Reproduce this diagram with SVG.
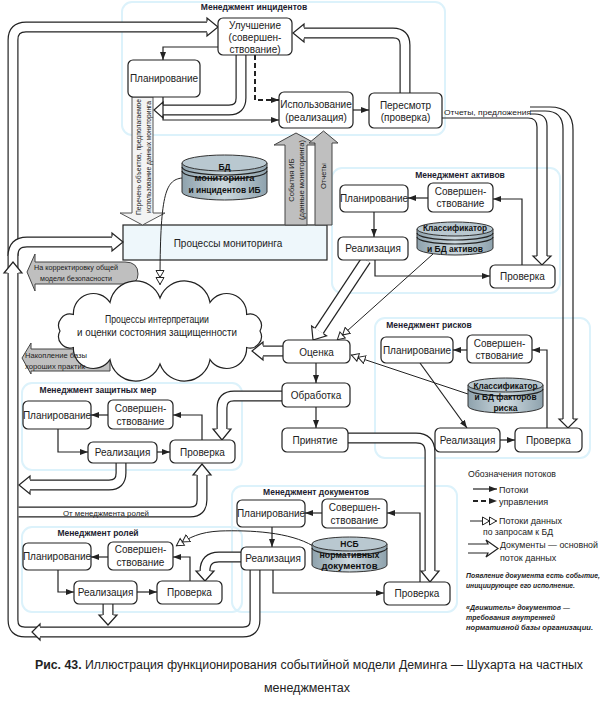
<svg xmlns="http://www.w3.org/2000/svg" xmlns:xlink="http://www.w3.org/1999/xlink" width="615" height="704" viewBox="0 0 615 704">
<style>
text{font-family:"Liberation Sans",Arial,sans-serif;fill:#222}
.t{font-size:10px;text-anchor:middle}
.ttl{font-size:8.5px;font-weight:bold;text-anchor:middle;fill:#1c1c30}
.db{font-size:8.5px;font-weight:bold;text-anchor:middle;fill:#111}
.sm{font-size:7.5px}
.lg{font-size:9px}
.note{font-size:7px;font-weight:bold;font-style:italic}
.cap{font-size:12.5px;text-anchor:middle}
.box{fill:#fff;stroke:#222;stroke-width:1.2}
.zone{fill:none;stroke:#dcf2fb;stroke-width:2}
.ln{fill:none;stroke:#222;stroke-width:1.2}
.a{fill:none;stroke:#222;stroke-width:1.2;marker-end:url(#ar)}
.da{fill:none;stroke:#222;stroke-width:2;stroke-dasharray:5 3;marker-end:url(#ar)}
.dd{fill:none;stroke:#222;stroke-width:1;marker-end:url(#dd)}
.cho{fill:none;stroke:#222;stroke-width:11}
.chi{fill:none;stroke:#fff;stroke-width:8.6}
.hd{fill:#fff;stroke:#222;stroke-width:1.2;stroke-linejoin:miter}
.cyl{fill:url(#cg);stroke:#333;stroke-width:1}
.cyt{fill:#b9c8d0;stroke:#333;stroke-width:1}
.gar{fill:#bfbfbf;stroke:#444;stroke-width:1}
.war{fill:#f3f3f3;stroke:#555;stroke-width:1}
</style>
<defs>
<marker id="ar" viewBox="0 0 8 6" refX="8" refY="3" markerWidth="8" markerHeight="6" markerUnits="userSpaceOnUse" orient="auto"><path d="M0,0 L8,3 L0,6 Z" fill="#222"/></marker>
<marker id="dd" viewBox="0 0 16 10" refX="15" refY="5" markerWidth="16" markerHeight="10" markerUnits="userSpaceOnUse" orient="auto"><path d="M0.5,1 L7.5,5 L0.5,9 Z M7.5,1 L14.5,5 L7.5,9 Z" fill="#fff" stroke="#222" stroke-width="1"/></marker>
<linearGradient id="cg" x1="0" y1="0" x2="1" y2="0"><stop offset="0" stop-color="#8ea2ad"/><stop offset="0.5" stop-color="#cdd9df"/><stop offset="1" stop-color="#8ea2ad"/></linearGradient>
<path id="chLoop" d="M255,570 V620 Q255,632 243,632 H25 Q13,632 13,620 V40 Q13,27 26,27 H207"/>
<path id="chMon" d="M13,256 Q13,242 27,242 H112"/>
<path id="chRev" d="M405,93 V45 Q405,33 393,33 H304"/>
<path id="chImp" d="M241,55 V98 Q241,110 229,110 H163"/>
<path id="chEval" d="M283,351 H263"/>
<path id="chProc" d="M282,396 H234 Q222,396 222,408 V429"/>
<path id="chPR" d="M121,463 V473 Q121,485 109,485 H30"/>
<path id="chRoles" d="M18.6,512 H190 Q202,512 202,500 V475"/>
<path id="chRR" d="M108,604 V615"/>
<path id="chDR" d="M241,557 H219 Q205,557 205,571"/>
<path id="chAcc" d="M348,438 H416 Q430,438 430,452 V571"/>
<path id="chAs" d="M366,260 L319,331"/>
</defs>

<g id="zones">
<rect class="zone" x="122" y="2" width="323" height="133" rx="10"/>
<rect class="zone" x="332" y="168" width="228" height="125" rx="10"/>
<rect class="zone" x="375" y="318" width="215" height="140" rx="10"/>
<rect class="zone" x="22" y="383" width="220" height="87" rx="10"/>
<rect class="zone" x="22" y="527" width="220" height="85" rx="10"/>
<rect class="zone" x="232" y="486" width="225" height="126" rx="10"/>
</g>

<g id="grey-arrows">
<path class="gar" d="M27,272 L35,254 L35,262 L125,262 Q138,262 138,274 Q138,284 127,284 L35,284 L35,291 Z"/>
<text class="sm" x="76" y="270" text-anchor="middle" textLength="84" lengthAdjust="spacingAndGlyphs">На корректировку общей</text>
<text class="sm" x="76" y="281" text-anchor="middle" textLength="72" lengthAdjust="spacingAndGlyphs">модели безопасности</text>
<path class="gar" d="M22,358 L31,343 L31,349 L110,349 L110,371 L31,371 L31,374 Z"/>
</g>

<g id="cloud">
<path class="box" d="M260,331 A11.5,11.5 0 0 1 246.6,347.5 A20,20 0 0 1 210,359.6 A26,26 0 0 1 160,364 A26,26 0 0 1 110,359.6 A20,20 0 0 1 73.4,347.5 A11.5,11.5 0 0 1 60,331 A11.5,11.5 0 0 1 73.4,314.5 A20,20 0 0 1 110,302.4 A26,26 0 0 1 160,298 A26,26 0 0 1 210,302.4 A20,20 0 0 1 246.6,314.5 A11.5,11.5 0 0 1 260,331 Z"/>
<text class="t" x="157" y="323" textLength="104" lengthAdjust="spacingAndGlyphs">Процессы интерпретации</text>
<text class="t" x="157" y="336" textLength="160" lengthAdjust="spacingAndGlyphs">и оценки состояния защищенности</text>
</g>
<text class="sm" x="25" y="358" textLength="62" lengthAdjust="spacingAndGlyphs">Накопление базы</text>
<text class="sm" x="25" y="369" textLength="60" lengthAdjust="spacingAndGlyphs">хороших практик</text>

<g id="monitoring">
<rect x="123" y="225" width="204" height="35" fill="#eef7fb" stroke="#222" stroke-width="1.2"/>
<text class="t" x="228" y="247">Процессы мониторинга</text>
</g>

<g id="flow-arrows">
<path class="war" d="M132,97 V213 H120 L142.5,225 L165,213 H153 V97 Z"/>
<text class="sm" transform="translate(141,157) rotate(-90)" text-anchor="middle" font-size="7" textLength="116" lengthAdjust="spacingAndGlyphs">Перечень объектов, предполагаемое</text>
<text class="sm" transform="translate(150.5,157) rotate(-90)" text-anchor="middle" font-size="7" textLength="112" lengthAdjust="spacingAndGlyphs">использование данных мониторинга</text>
<path class="gar" d="M285,225 V145 H274 L296,133 L318,145 H307 V225 Z"/>
<text class="sm" transform="translate(294,180) rotate(-90)" text-anchor="middle">События ИБ</text>
<text class="sm" transform="translate(304,180) rotate(-90)" text-anchor="middle" textLength="80" lengthAdjust="spacingAndGlyphs">(данные мониторинга)</text>
<path class="gar" d="M315,225 V143 H309 L323.5,131 L338,143 H332 V225 Z"/>
<text class="sm" transform="translate(326,176) rotate(-90)" text-anchor="middle">Отчеты</text>
</g>

<g id="connectors">
<use xlink:href="#chLoop" class="cho"/><use xlink:href="#chLoop" class="chi"/>
<path class="hd" d="M207,21.5 L207,18 L218,27 L207,36 L207,32.5"/>
<path class="hd" d="M7.5,273 L4,273 L13,262 L22,273 L18.5,273"/>
<path class="hd" d="M40,626.5 L40,624 L32,632 L40,640 L40,637.5"/>
<use xlink:href="#chMon" class="cho"/><use xlink:href="#chMon" class="chi"/>
<path class="hd" d="M112,236.5 L112,233 L123,242 L112,251 L112,247.5"/>
<use xlink:href="#chRev" class="cho"/><use xlink:href="#chRev" class="chi"/>
<path class="hd" d="M304,27.5 L304,24 L293,33 L304,42 L304,38.5"/>
<use xlink:href="#chImp" class="cho"/><use xlink:href="#chImp" class="chi"/>
<path class="hd" d="M163,104.5 L163,102 L154,110 L163,118 L163,115.5"/>
<path class="a" d="M218,47 H163 V60"/>
<path class="da" d="M255,55 V100 H279"/>
<path class="a" d="M163,97 V120 H279"/>
<path class="a" d="M353,110 H369"/>
<path class="ln" d="M442,118 H528 Q537,118 537,127 V256"/>
<path class="ln" d="M530,114 H535 Q547,114 547,126 V256"/>
<path class="hd" d="M537,256 L533,256 L542,265 L551,256 L547,256"/>
<path class="ln" d="M530,111 H545 Q563,111 563,129 V419"/>
<path class="ln" d="M530,107 H550 Q573,107 573,130 V419"/>
<path class="hd" d="M563,419 L559,419 L568,428 L577,419 L573,419"/>
<path class="dd" d="M182,178 C165,180 160,195 160,285"/>
<path class="a" d="M428,198 H408"/>
<path class="a" d="M374,212 V237"/>
<path class="a" d="M375,260 V276 H490"/>
<path class="a" d="M522,265 V199 H493"/>
<use xlink:href="#chAs" class="cho"/><use xlink:href="#chAs" class="chi"/>
<path class="hd" d="M323.7,333.9 L326.6,335.9 L313,340 L311.6,325.9 L314.5,327.9"/>
<path class="dd" d="M433,254 L337,340"/>
<path class="a" d="M467,350 H453"/>
<path class="a" d="M420,363 L467,428"/>
<path class="a" d="M500,440 H515"/>
<path class="a" d="M547,428 V350 H532"/>
<path class="dd" d="M468,394 L351,355"/>
<path class="a" d="M316,363 V383"/>
<path class="a" d="M316,407 V428"/>
<use xlink:href="#chEval" class="cho"/><use xlink:href="#chEval" class="chi"/>
<path class="hd" d="M263,345.5 L263,342 L252,351 L263,360 L263,356.5"/>
<use xlink:href="#chProc" class="cho"/><use xlink:href="#chProc" class="chi"/>
<path class="hd" d="M216.5,429 L213,429 L222,440 L231,429 L227.5,429"/>
<use xlink:href="#chAcc" class="cho"/><use xlink:href="#chAcc" class="chi"/>
<path class="hd" d="M424.5,571 L421,571 L430,582 L439,571 L435.5,571"/>
<path class="a" d="M108,415 H91"/>
<path class="a" d="M58,429 V452 H88"/>
<path class="a" d="M157,452 H170"/>
<path class="a" d="M202,440 V415 H173"/>
<use xlink:href="#chPR" class="cho"/><use xlink:href="#chPR" class="chi"/>
<path class="hd" d="M30,479.5 L30,476 L19,485 L30,494 L30,490.5"/>
<use xlink:href="#chRoles" class="cho"/><use xlink:href="#chRoles" class="chi"/>
<path class="hd" d="M196.5,475 L193,475 L202,464 L211,475 L207.5,475"/>
<path class="a" d="M108,557 H91"/>
<path class="a" d="M58,570 V592 H74"/>
<path class="a" d="M137,592 H157"/>
<path class="a" d="M190,581 V557 H173"/>
<use xlink:href="#chRR" class="cho"/><use xlink:href="#chRR" class="chi"/>
<path class="hd" d="M102.5,615 L99,615 L108,625 L117,615 L113.5,615"/>
<use xlink:href="#chDR" class="cho"/><use xlink:href="#chDR" class="chi"/>
<path class="hd" d="M199.5,571 L196,571 L205,581 L214,571 L210.5,571"/>
<path class="dd" d="M313,546 C290,532 250,530 220,531 C200,532 190,537 176,546"/>
<path class="a" d="M322,513 H305"/>
<path class="a" d="M272,527 V547"/>
<path class="a" d="M273,570 V593 H384"/>
<path class="a" d="M420,582 V513 H387"/>
</g>
<text class="sm" x="106" y="515.5" text-anchor="middle" font-size="8" textLength="86" lengthAdjust="spacingAndGlyphs">От менеджмента ролей</text>
<text class="sm" x="444" y="115" font-size="8.5" textLength="87" lengthAdjust="spacingAndGlyphs">Отчеты, предложения</text>

<g id="incidents">
<text class="ttl" x="254" y="10">Менеджмент инцидентов</text>
<g id="inc-improve"><rect class="box" x="218" y="18" width="74" height="37" rx="5"/>
<text class="t" x="255" y="29">Улучшение</text><text class="t" x="255" y="41">(совершен-</text><text class="t" x="255" y="52.5">ствование)</text></g>
<g id="inc-plan"><rect class="box" x="128" y="60" width="72" height="37" rx="5"/><text class="t" x="164" y="82">Планирование</text></g>
<g id="inc-use"><rect class="box" x="279" y="92" width="74" height="36" rx="5"/><text class="t" x="316" y="108">Использование</text><text class="t" x="316" y="121">(реализация)</text></g>
<g id="inc-review"><rect class="box" x="369" y="93" width="73" height="35" rx="5"/><text class="t" x="405.5" y="108.5">Пересмотр</text><text class="t" x="405.5" y="121">(проверка)</text></g>
</g>

<g id="db-monitoring">
<path class="cyl" d="M182,163 V192 A42.5,8 0 0 0 267,192 V163 Z"/>
<path class="ln" stroke-width="0.8" d="M182,167 A42.5,8 0 0 0 267,167 M182,171 A42.5,8 0 0 0 267,171"/>
<ellipse class="cyt" cx="224.5" cy="163" rx="42.5" ry="8"/>
<text class="db" x="224.5" y="170">БД</text><text class="db" x="224.5" y="181" textLength="60" lengthAdjust="spacingAndGlyphs">мониторинга</text><text class="db" x="224.5" y="193" textLength="72" lengthAdjust="spacingAndGlyphs">и инцидентов ИБ</text>
</g>

<g id="assets">
<text class="ttl" x="460" y="178">Менеджмент активов</text>
<g id="as-plan"><rect class="box" x="340" y="185" width="68" height="27" rx="5"/><text class="t" x="374" y="202">Планирование</text></g>
<g id="as-imp"><rect class="box" x="428" y="183" width="65" height="29" rx="5"/><text class="t" x="460.5" y="195">Совершен-</text><text class="t" x="460.5" y="207">ствование</text></g>
<g id="as-real"><rect class="box" x="338" y="237" width="70" height="23" rx="5"/><text class="t" x="373" y="252">Реализация</text></g>
<g id="as-check"><rect class="box" x="490" y="265" width="65" height="23" rx="5"/><text class="t" x="522.5" y="280">Проверка</text></g>
<g id="db-assets">
<path class="cyl" d="M417,229 V248 A38,7 0 0 0 493,248 V229 Z"/>
<path class="ln" stroke-width="0.8" d="M417,233 A38,7 0 0 0 493,233 M417,237 A38,7 0 0 0 493,237"/>
<ellipse class="cyt" cx="455" cy="229" rx="38" ry="7"/>
<text class="db" x="455" y="231" textLength="64" lengthAdjust="spacingAndGlyphs">Классификатор</text><text class="db" x="455" y="252" textLength="56" lengthAdjust="spacingAndGlyphs">и БД активов</text>
</g>
</g>

<g id="central">
<g id="ev"><rect class="box" x="283" y="340" width="67" height="23" rx="5"/><text class="t" x="316.5" y="355.5">Оценка</text></g>
<g id="proc"><rect class="box" x="282" y="383" width="68" height="24" rx="5"/><text class="t" x="316" y="399">Обработка</text></g>
<g id="acc"><rect class="box" x="282" y="428" width="66" height="24" rx="5"/><text class="t" x="315" y="444">Принятие</text></g>
</g>

<g id="risks">
<text class="ttl" x="429" y="328">Менеджмент рисков</text>
<g id="rk-plan"><rect class="box" x="381" y="337" width="72" height="26" rx="5"/><text class="t" x="417" y="354">Планирование</text></g>
<g id="rk-imp"><rect class="box" x="467" y="335" width="65" height="28" rx="5"/><text class="t" x="499.5" y="346.5">Совершен-</text><text class="t" x="499.5" y="358.5">ствование</text></g>
<g id="rk-real"><rect class="box" x="435" y="428" width="65" height="24" rx="5"/><text class="t" x="467.5" y="444">Реализация</text></g>
<g id="rk-check"><rect class="box" x="515" y="428" width="67" height="24" rx="5"/><text class="t" x="548.5" y="444">Проверка</text></g>
<g id="db-risks">
<path class="cyl" d="M468,385 V406 A37.5,7 0 0 0 543,406 V385 Z"/>
<path class="ln" stroke-width="0.8" d="M468,389 A37.5,7 0 0 0 543,389"/>
<ellipse class="cyt" cx="505.5" cy="385" rx="37.5" ry="7"/>
<text class="db" x="505.5" y="389" textLength="64" lengthAdjust="spacingAndGlyphs">Классификатор</text><text class="db" x="505.5" y="400" textLength="62" lengthAdjust="spacingAndGlyphs">и БД факторов</text><text class="db" x="505.5" y="411">риска</text>
</g>
</g>

<g id="protective">
<text class="ttl" x="98" y="393">Менеджмент защитных мер</text>
<g id="pm-plan"><rect class="box" x="23" y="401" width="68" height="28" rx="5"/><text class="t" x="57" y="419">Планирование</text></g>
<g id="pm-imp"><rect class="box" x="108" y="400" width="65" height="29" rx="5"/><text class="t" x="140.5" y="412">Совершен-</text><text class="t" x="140.5" y="425">ствование</text></g>
<g id="pm-real"><rect class="box" x="88" y="442" width="69" height="21" rx="5"/><text class="t" x="122.5" y="456">Реализация</text></g>
<g id="pm-check"><rect class="box" x="170" y="440" width="65" height="23" rx="5"/><text class="t" x="202.5" y="456">Проверка</text></g>
</g>

<g id="roles">
<text class="ttl" x="98" y="536">Менеджмент ролей</text>
<g id="rl-plan"><rect class="box" x="23" y="543" width="68" height="27" rx="5"/><text class="t" x="57" y="560">Планирование</text></g>
<g id="rl-imp"><rect class="box" x="108" y="542" width="65" height="28" rx="5"/><text class="t" x="140.5" y="553">Совершен-</text><text class="t" x="140.5" y="566">ствование</text></g>
<g id="rl-real"><rect class="box" x="74" y="581" width="63" height="23" rx="5"/><text class="t" x="105.5" y="596">Реализация</text></g>
<g id="rl-check"><rect class="box" x="157" y="581" width="65" height="23" rx="5"/><text class="t" x="189.5" y="596">Проверка</text></g>
</g>

<g id="documents">
<text class="ttl" x="316" y="495">Менеджмент документов</text>
<g id="dc-plan"><rect class="box" x="237" y="500" width="68" height="27" rx="5"/><text class="t" x="271" y="517">Планирование</text></g>
<g id="dc-imp"><rect class="box" x="322" y="499" width="65" height="29" rx="5"/><text class="t" x="354.5" y="511">Совершен-</text><text class="t" x="354.5" y="524">ствование</text></g>
<g id="dc-real"><rect class="box" x="241" y="547" width="64" height="23" rx="5"/><text class="t" x="273" y="562">Реализация</text></g>
<g id="dc-check"><rect class="box" x="384" y="582" width="66" height="23" rx="5"/><text class="t" x="417" y="597">Проверка</text></g>
<g id="db-docs">
<path class="cyl" d="M312,544 V565 A37.5,7 0 0 0 387,565 V544 Z"/>
<path class="ln" stroke-width="0.8" d="M312,548 A37.5,7 0 0 0 387,548"/>
<ellipse class="cyt" cx="349.5" cy="544" rx="37.5" ry="7"/>
<text class="db" x="349.5" y="547">НСБ</text><text class="db" x="349.5" y="558" textLength="60" lengthAdjust="spacingAndGlyphs">нормативных</text><text class="db" x="349.5" y="569" textLength="56" lengthAdjust="spacingAndGlyphs">документов</text>
</g>
</g>

<g id="legend">
<text class="lg" x="468" y="477" textLength="88" lengthAdjust="spacingAndGlyphs">Обозначения потоков</text>
<path class="a" d="M473,489 H497"/>
<text class="lg" x="499" y="493">Потоки</text>
<path class="da" d="M473,501 H497"/>
<text class="lg" x="499" y="505">управления</text>
<path class="dd" d="M470,521 H497"/>
<text class="lg" x="499" y="524">Потоки данных</text>
<text class="lg" x="483" y="535" textLength="70" lengthAdjust="spacingAndGlyphs">по запросам к БД</text>
<path class="hd" d="M468,544 H488 L486,540 L498,548.5 L486,557 L488,553 H468"/>
<text class="lg" x="500" y="548" textLength="98" lengthAdjust="spacingAndGlyphs">Документы — основной</text>
<text class="lg" x="500" y="561">поток данных</text>
<text class="note" x="466" y="578" textLength="134" lengthAdjust="spacingAndGlyphs">Появление документа есть событие,</text>
<text class="note" x="466" y="588" textLength="109" lengthAdjust="spacingAndGlyphs">инициирующее его исполнение.</text>
<text class="note" x="466" y="610" textLength="104" lengthAdjust="spacingAndGlyphs">«Движитель» документов —</text>
<text class="note" x="466" y="620" textLength="89" lengthAdjust="spacingAndGlyphs">требования внутренней</text>
<text class="note" x="466" y="630" textLength="127" lengthAdjust="spacingAndGlyphs">нормативной базы организации.</text>
</g>

<g id="caption">
<text class="cap" x="309" y="669" textLength="548" lengthAdjust="spacingAndGlyphs"><tspan font-weight="bold">Рис. 43.</tspan> Иллюстрация функционирования событийной модели Деминга — Шухарта на частных</text>
<text class="cap" x="307" y="692">менеджментах</text>
</g>
</svg>
